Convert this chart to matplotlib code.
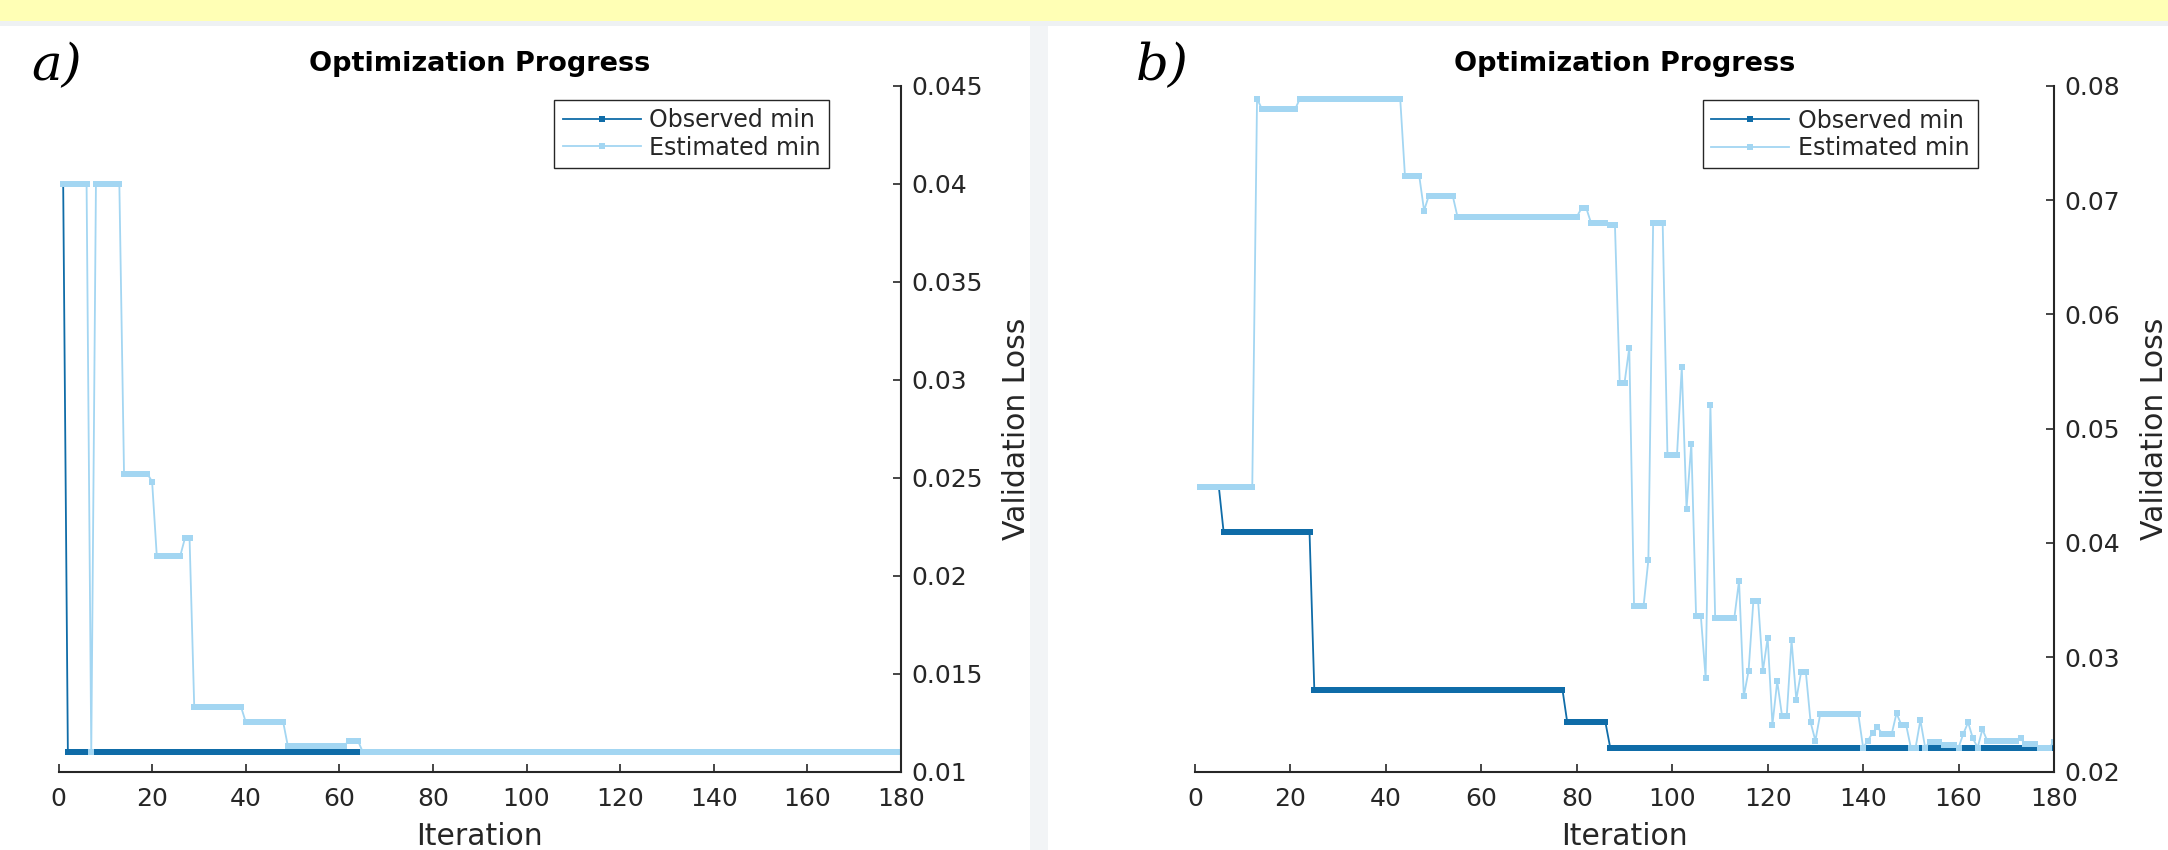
import numpy as np
import matplotlib.pyplot as plt
from matplotlib.patches import Rectangle

# panel a): value held over a run of consecutive iterations (1..180)
a_observed_vals = [0.040, 0.011]
a_observed_runs = [1, 179]
a_estimated_vals = [0.040, 0.011, 0.040, 0.0252, 0.0248, 0.0210, 0.0219,
                    0.0133, 0.01253, 0.0113, 0.01156, 0.011]
a_estimated_runs = [6, 1, 6, 6, 1, 6, 2, 11, 9, 13, 3, 116]

# panel b)
b_observed_vals = [0.0449, 0.04095, 0.02717, 0.02431, 0.0221]
b_observed_runs = [5, 19, 53, 9, 94]
b_estimated_vals = [0.0449, 0.0789, 0.0780, 0.0789, 0.0721, 0.0691, 0.0704, 0.06856,
                    0.0693, 0.0680, 0.0678, 0.0540, 0.0571, 0.0345, 0.0385, 0.0680,
                    0.0477, 0.0554, 0.0430, 0.0487, 0.0336, 0.0282, 0.0521, 0.0334,
                    0.0367, 0.0266, 0.0288, 0.0349, 0.0288, 0.0317, 0.0241, 0.0279,
                    0.0249, 0.0315, 0.0263, 0.0287, 0.0243, 0.0227, 0.0250, 0.0221,
                    0.0227, 0.0234, 0.0239, 0.0233, 0.0251, 0.0241, 0.0221, 0.0245,
                    0.0221, 0.0226, 0.0223, 0.0221, 0.0233, 0.0243, 0.0229, 0.0221,
                    0.0237, 0.0227, 0.0229, 0.0224, 0.0221, 0.0226]
b_estimated_runs = [12, 1, 8, 22, 4, 1, 6, 26, 2, 4,
                    2, 2, 1, 3, 1, 3, 3, 1, 1, 1,
                    2, 1, 1, 5, 1, 1, 1, 2, 1, 1,
                    1, 1, 2, 1, 1, 2, 1, 1, 9, 1,
                    1, 1, 1, 3, 1, 2, 2, 1, 1, 3,
                    3, 1, 1, 1, 1, 1, 1, 7, 1, 3,
                    3, 1]

xticks = [0, 20, 40, 60, 80, 100, 120, 140, 160, 180]
a_yticks = [0.01, 0.015, 0.02, 0.025, 0.03, 0.035, 0.04, 0.045]
a_yticklabels = ['0.01', '0.015', '0.02', '0.025', '0.03', '0.035', '0.04', '0.045']
b_yticks = [0.02, 0.03, 0.04, 0.05, 0.06, 0.07, 0.08]
b_yticklabels = ['0.02', '0.03', '0.04', '0.05', '0.06', '0.07', '0.08']

OBS_C = '#0f6ca8'
EST_C = '#a3d6f2'
AX_C = '#262626'

W, H = 2168, 850
fig = plt.figure(figsize=(W / 100, H / 100), dpi=100)
fig.patch.set_facecolor('white')

# yellow band on top and thin grey gap between the two screenshots
fig.add_artist(Rectangle((0, 1 - 21 / H), 1, 21 / H, transform=fig.transFigure,
                         facecolor='#ffffb5', edgecolor='none', zorder=0))
fig.add_artist(Rectangle((0, 1 - 26 / H), 1, 5 / H, transform=fig.transFigure,
                         facecolor='#eef1f3', edgecolor='none', zorder=0))
fig.add_artist(Rectangle((1030 / W, 0), 18 / W, 1 - 26 / H, transform=fig.transFigure,
                         facecolor='#f2f4f6', edgecolor='none', zorder=0))


def draw_panel(left_px, right_px, obs_vals, obs_runs, est_vals, est_runs,
               ylim, yticks, yticklabels, leg_anchor, tag, tag_x):
    obs = np.repeat(obs_vals, obs_runs)
    est = np.repeat(est_vals, est_runs)
    it = np.arange(1, len(obs) + 1)

    top_px, bot_px = 86, 771.5
    ax = fig.add_axes([left_px / W, 1 - bot_px / H,
                       (right_px - left_px) / W, (bot_px - top_px) / H])
    ax.plot(it, obs, color=OBS_C, lw=1.3, marker='s', ms=4.6, mew=0,
            label='Observed min')
    ax.plot(it, est, color=EST_C, lw=1.3, marker='s', ms=4.6, mew=0,
            label='Estimated min')

    ax.set_xlim(0, 180)
    ax.set_ylim(*ylim)
    ax.set_xticks(xticks)
    ax.set_yticks(yticks)
    ax.set_yticklabels(yticklabels)

    for s in ['top', 'left']:
        ax.spines[s].set_visible(False)
    for s in ['bottom', 'right']:
        ax.spines[s].set_color(AX_C)
        ax.spines[s].set_linewidth(1.5)
    ax.yaxis.tick_right()
    ax.yaxis.set_label_position('right')
    ax.tick_params(axis='both', direction='in', length=6, width=1.2,
                   color=AX_C, labelcolor=AX_C, labelsize=18)
    ax.tick_params(axis='x', pad=11)
    ax.tick_params(axis='y', pad=7.5)

    ax.set_xlabel('Iteration', fontsize=21.5, color=AX_C, labelpad=8)
    ax.set_ylabel('Validation Loss', fontsize=21.5, color=AX_C, labelpad=14,
                  rotation=90)
    ax.set_title('Optimization Progress', fontsize=19.5, fontweight='bold',
                 color='black', pad=11)

    leg = ax.legend(loc='upper right', bbox_to_anchor=leg_anchor,
                    fontsize=17, frameon=True, fancybox=False, framealpha=1,
                    borderpad=0.35, handlelength=3.3, handletextpad=0.38,
                    labelspacing=0.15, borderaxespad=0, numpoints=1,
                    markerscale=0.8)
    leg.get_frame().set_edgecolor(AX_C)
    leg.get_frame().set_linewidth(1.0)
    for t in leg.get_texts():
        t.set_color(AX_C)

    fig.text(tag_x / W, 1 - 80 / H, tag, fontsize=37, style='italic',
             family='DejaVu Serif', va='baseline', ha='left')
    return ax


draw_panel(58.5, 901, a_observed_vals, a_observed_runs,
           a_estimated_vals, a_estimated_runs,
           (0.01, 0.045), a_yticks, a_yticklabels, (0.915, 0.98), 'a)', 31)
draw_panel(1195, 2054, b_observed_vals, b_observed_runs,
           b_estimated_vals, b_estimated_runs,
           (0.02, 0.08), b_yticks, b_yticklabels, (0.9115, 0.979), 'b)', 1136)

fig.savefig('out.png', dpi=100)
